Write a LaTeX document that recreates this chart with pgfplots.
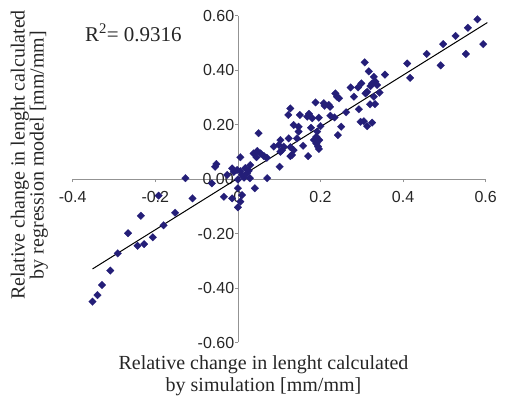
\documentclass[border=0pt]{standalone}
\usepackage{pgfplots}
\pgfplotsset{compat=1.18}
\usepackage{pgfplotstable}
\usepackage{fontspec}
\setmainfont{Liberation Serif}
\newfontfamily\arial{Liberation Sans}
\definecolor{navy}{RGB}{36,30,120}
\pgfplotstableread{
x y
0.580 0.586
0.557 0.555
0.594 0.495
0.527 0.525
0.552 0.459
0.497 0.495
0.491 0.417
0.457 0.459
0.410 0.424
0.417 0.371
0.307 0.428
0.317 0.395
0.356 0.383
0.329 0.375
0.333 0.357
0.325 0.351
0.321 0.341
0.337 0.345
0.313 0.320
0.343 0.317
0.299 0.351
0.291 0.336
0.273 0.336
0.281 0.302
0.329 0.302
0.309 0.314
0.320 0.274
0.332 0.275
0.293 0.256
0.297 0.210
0.313 0.194
0.325 0.207
0.305 0.212
0.236 0.314
0.240 0.302
0.245 0.296
0.208 0.278
0.188 0.281
0.220 0.272
0.210 0.269
0.223 0.265
0.262 0.245
0.224 0.232
0.234 0.226
0.250 0.192
0.242 0.161
0.177 0.188
0.196 0.225
0.172 0.239
0.168 0.229
0.180 0.223
0.200 0.194
0.192 0.174
0.190 0.155
0.194 0.119
0.184 0.143
0.197 0.143
0.190 0.130
0.196 0.110
0.127 0.259
0.122 0.235
0.150 0.235
0.135 0.198
0.147 0.192
0.147 0.174
0.123 0.149
0.143 0.149
0.103 0.143
0.158 0.122
0.170 0.084
0.127 0.117
0.111 0.119
0.087 0.119
0.099 0.125
0.103 0.100
0.107 0.106
0.135 0.106
0.127 0.084
0.131 0.088
0.101 0.045
0.050 0.168
0.047 0.103
0.038 0.094
0.055 0.094
0.063 0.084
0.070 0.078
0.045 0.080
0.030 0.051
0.006 0.080
0.071 0.003
0.041 -0.034
-0.052 0.055
-0.055 0.045
-0.063 -0.016
-0.127 0.003
-0.014 0.039
-0.002 0.033
0.006 0.029
-0.010 0.026
0.010 0.015
0.022 0.021
0.029 0.003
-0.026 0.015
0.000 -0.002
0.015 0.005
0.026 0.030
0.018 0.040
-0.034 -0.065
-0.014 -0.071
0.010 -0.059
0.006 -0.083
0.000 -0.104
0.000 -0.034
-0.110 -0.071
-0.152 -0.124
-0.180 -0.170
-0.192 -0.061
-0.235 -0.135
-0.206 -0.214
-0.227 -0.239
-0.243 -0.245
-0.266 -0.199
-0.291 -0.273
-0.309 -0.336
-0.329 -0.389
-0.340 -0.426
-0.352 -0.450
}\pts
\begin{document}
\begin{tikzpicture}
\useasboundingbox (-72.7pt,-55.5pt) rectangle (432.3pt,342.5pt);
\begin{axis}[
 at={(0,0)}, anchor=south west,
 scale only axis, width=413pt, height=327pt,
 xmin=-0.4, xmax=0.6, ymin=-0.6, ymax=0.6,
 axis lines=middle,
 axis line style={-, draw=gray!85, line width=0.7pt},
 tick align=outside, major tick length=3pt,
 tick style={draw=gray!85, line width=0.7pt},
 xtick={-0.4,-0.2,0,0.2,0.4,0.6},
 xticklabels={-0.4,-0.2,0,0.2,0.4,0.6},
 ytick={-0.6,-0.4,-0.2,0,0.2,0.4,0.6},
 yticklabels={-0.60,-0.40,-0.20,0.00,0.20,0.40,0.60},
 ticklabel style={font=\arial\fontsize{16}{19}\selectfont, text=black!85},
 xticklabel style={anchor=north, yshift=-6pt},
 yticklabel style={anchor=east, inner xsep=0.5pt},
 clip=false,
]
\node[font=\arial\fontsize{16}{19}\selectfont, text=black!85, anchor=north, yshift=-9pt] at (axis cs:0,0) {0};
\node[font=\arial\fontsize{16}{19}\selectfont, text=black!85, anchor=east, inner xsep=0.5pt, xshift=-3.5pt] at (axis cs:0,0) {0.00};
\addplot[only marks, mark=square*, mark size=2.7pt, mark options={rotate=45, fill=navy, draw=navy, line width=0.2pt}] table[x=x,y=y] {\pts};
\addplot[black, line width=1pt] coordinates {(-0.352,-0.330) (0.604,0.574)};
\node[font=\fontsize{21}{25}\selectfont, text=black!85] at (axis cs:-0.253,0.536) {R\textsuperscript{2}= 0.9316};
\node[font=\fontsize{20}{22}\selectfont, text=black!85, align=center, inner sep=0pt] at (axis cs:0.062,-0.722) {Relative change in lenght calculated\\ by simulation [mm/mm]};
\node[font=\fontsize{20}{18}\selectfont, text=black!85, align=center, rotate=90] at (axis cs:-0.505,0.088) {Relative change in lenght calculated\\ by regression model [mm/mm]};
\end{axis}
\end{tikzpicture}
\end{document}
